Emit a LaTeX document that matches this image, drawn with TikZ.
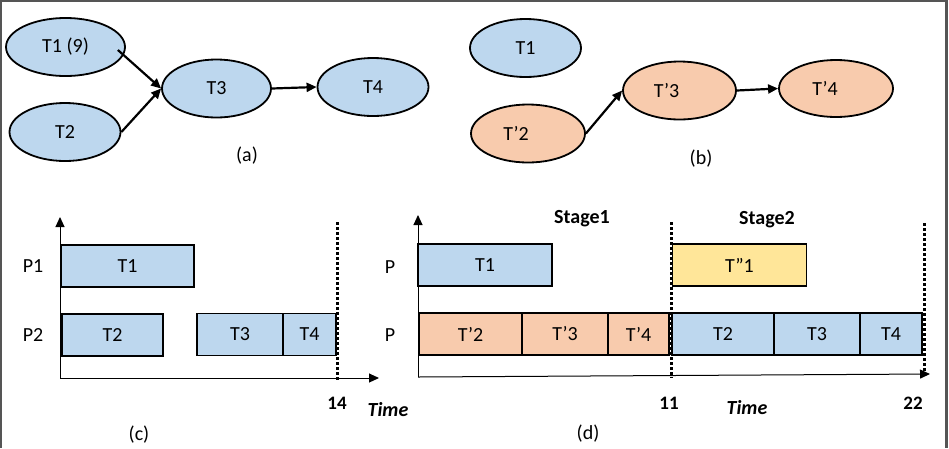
\documentclass[tikz,border=0pt]{standalone}
\usepackage{fontspec}
\setmainfont{Carlito}
\usetikzlibrary{arrows.meta,shapes.geometric}

\definecolor{taskblue}{HTML}{BDD7EE}
\definecolor{taskorange}{HTML}{F8CBAD}
\definecolor{taskyellow}{HTML}{FFE699}
\definecolor{framegray}{HTML}{555555}

\tikzset{
  txt/.style={font=\fontsize{20}{24}\selectfont, inner sep=0pt},
  task/.style={ellipse, draw=black, line width=1.8pt, inner sep=0pt,
    minimum width=111pt, minimum height=58pt, txt},
  slot/.style={rectangle, draw=black, line width=1.8pt, inner sep=0pt,
    minimum height=42pt, txt},
  dep/.style={-{Triangle[length=10pt,width=9pt]}, line width=2.2pt},
  axis/.style={-{Triangle[length=10pt,width=9pt]}, line width=1pt},
  limit/.style={line width=3pt, dash pattern=on 2.5pt off 2.5pt},
  tick/.style={font=\fontsize{19}{22}\selectfont\bfseries, inner sep=0pt},
  stage/.style={font=\fontsize{20}{24}\selectfont\bfseries, inner sep=0pt},
  timelbl/.style={font=\fontsize{20}{24}\selectfont\bfseries\itshape, inner sep=0pt}
}

\begin{document}
\begin{tikzpicture}[x=1pt,y=-1pt]
  \useasboundingbox (0,0) rectangle (949,448);
  % frame
  \draw[framegray, line width=1.5pt] (1,448) -- (1,1) -- (946.5,1);
  \draw[framegray, line width=2.5pt] (946.5,0) -- (946.5,448);

  % (a) task graph
  \node[task, fill=taskblue, minimum width=119pt] (a1) at (65.5,47) {T1 (9)};
  \node[task, fill=taskblue] (a2) at (65,132) {T2};
  \node[task, fill=taskblue, minimum width=109pt] (a3) at (216.5,88.5) {T3};
  \node[task, fill=taskblue] (a4) at (373,87) {T4};
  \draw[dep] ([xshift=-8pt,yshift=-3pt]a1.east) -- (a3.west);
  \draw[dep] (a2.east) -- (a3.west);
  \draw[dep] (a3.east) -- (a4.west);
  \node[txt] (capa) at (247,156) {(a)};

  % (b) split task graph
  \node[task, fill=taskblue] (b1) at (525.5,48) {T1};
  \node[task, fill=taskorange, minimum width=114pt] (b2) at (528,133.5) {T’2\hspace*{24pt}};
  \node[task, fill=taskorange, minimum width=113pt] (b3) at (679.5,90.5) {T’3\hspace*{26pt}};
  \node[task, fill=taskorange, minimum width=114pt, minimum height=57pt] (b4) at (836,88.5) {T’4\hspace*{22pt}};
  \draw[dep] (b2.east) -- (b3.west);
  \draw[dep] (b3.east) -- (b4.west);
  \node[txt] (capb) at (701,159) {(b)};

  % (c) schedule on two processors
  \coordinate (oc) at (60,378);
  \draw[axis] (oc) -- (60,217);
  \draw[axis] (oc) -- (379,378);
  \node[slot, fill=taskblue, minimum width=133pt] (c1) at (127.5,266) {T1};
  \node[slot, fill=taskblue, minimum width=101pt] (c2) at (112.5,335) {T2};
  \node[slot, fill=taskblue, minimum width=86pt] (c3) at (240,334.5) {T3};
  \node[slot, fill=taskblue, minimum width=53pt] (c4) at (309.5,334.5) {T4};
  \draw[limit] (337,222) -- (337,380);
  \node[txt] (p1) at (33,266) {P1};
  \node[txt] (p2) at (33,335) {P2};
  \node[tick] (t14) at (337,403) {14};
  \node[timelbl] (timec) at (388,410) {Time};
  \node[txt] (capc) at (139,435) {(c)};

  % (d) schedule on one processor in two stages
  \coordinate (od) at (418,377);
  \draw[axis] (od) -- (418,215);
  \draw[axis] (od) -- (930,374);
  \node[slot, fill=taskblue, minimum width=134pt] (d1) at (485,265) {T1};
  \node[slot, fill=taskorange, minimum width=103pt] (d2) at (470.5,334) {T’2};
  \node[slot, fill=taskorange, minimum width=86pt] (d3) at (565,334) {T’3};
  \node[slot, fill=taskorange, minimum width=61pt] (d4) at (638.5,334) {T’4};
  \node[slot, fill=taskyellow, minimum width=134pt] (d5) at (739.5,265) {T”1};
  \node[slot, fill=taskblue, minimum width=102pt] (d6) at (723,334) {T2};
  \node[slot, fill=taskblue, minimum width=86pt] (d7) at (817,334) {T3};
  \node[slot, fill=taskblue, minimum width=62pt] (d8) at (891,334) {T4};
  \draw[limit] (671,222) -- (671,378);
  \draw[limit] (924,223) -- (924,372);
  \node[txt] (pa) at (390,267) {P};
  \node[txt] (pb) at (390,335) {P};
  \node[stage] (s1) at (582,219) {Stage1};
  \node[stage] (s2) at (767,220) {Stage2};
  \node[tick] (t11) at (669,403) {11};
  \node[tick] (t22) at (913,403) {22};
  \node[timelbl] (timed) at (747,408) {Time};
  \node[txt] (capd) at (588,434) {(d)};
\end{tikzpicture}
\end{document}
